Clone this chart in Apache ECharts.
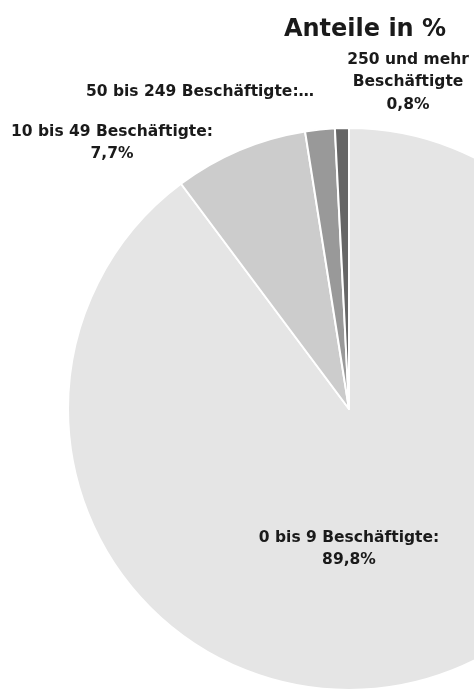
<!DOCTYPE html>
<html>
<head>
<meta charset="utf-8">
<script src="https://cdn.jsdelivr.net/npm/echarts@6/dist/echarts.min.js"></script>
<style>
html,body{margin:0;padding:0;background:#fff;}
#chart{width:474px;height:689px;}
</style>
</head>
<body>
<div id="chart"></div>
<script>
const categories = ['0 bis 9 Beschäftigte', '10 bis 49 Beschäftigte', '50 bis 249 Beschäftigte', '250 und mehr Beschäftigte'];
const values = [89.8, 7.7, 1.7, 0.8];
const labelTexts = ['0 bis 9 Beschäftigte:\n89,8%', '10 bis 49 Beschäftigte:\n7,7%', '50 bis 249 Beschäftigte:…', '250 und mehr\nBeschäftigte\n0,8%'];
const colors = ['#e5e5e5', '#cccccc', '#999999', '#666666'];
const labelAnchors = [[349, 549], [112, 143], [200, 92], [408, 82]];

const FONT = 'DejaVu Sans';
const chart = echarts.init(document.getElementById('chart'));
chart.setOption({
  backgroundColor: '#ffffff',
  animation: false,
  title: {
    text: 'Anteile in %',
    left: 360,
    top: 13,
    textAlign: 'center',
    textStyle: { fontFamily: FONT, fontWeight: 'bold', fontSize: 24, color: '#1a1a1a' }
  },
  series: [{
    type: 'pie',
    center: [349, 409],
    radius: 281,
    startAngle: 90,
    clockwise: true,
    avoidLabelOverlap: false,
    itemStyle: { borderColor: '#ffffff', borderWidth: 2 },
    label: {
      show: true,
      position: 'outside',
      fontFamily: FONT,
      fontWeight: 'bold',
      fontSize: 15.5,
      lineHeight: 22.5,
      color: '#1a1a1a',
      align: 'center',
      formatter: p => labelTexts[p.dataIndex]
    },
    labelLine: { show: false },
    labelLayout: p => ({
      x: labelAnchors[p.dataIndex][0],
      y: labelAnchors[p.dataIndex][1],
      align: 'center',
      verticalAlign: 'middle'
    }),
    emphasis: { disabled: true },
    data: categories.map((c, i) => ({ name: c, value: values[i], itemStyle: { color: colors[i] } }))
  }]
});
</script>
</body>
</html>
